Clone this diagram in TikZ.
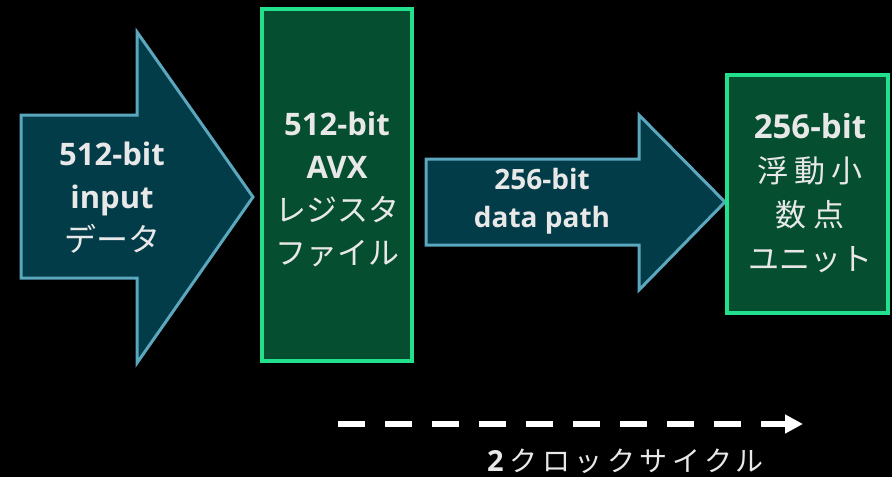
\documentclass[tikz,border=0pt]{standalone}
\usepackage{fontspec}
\usetikzlibrary{arrows.meta}
\setmainfont{Open Sans}
\newfontfamily\jp{Noto Sans CJK JP}
\newcommand{\jpsz}[1]{\jp\fontsize{#1}{#1}\selectfont}
\definecolor{arrowfill}{HTML}{033C49}
\definecolor{arrowline}{HTML}{5BA7BE}
\definecolor{boxfill}{HTML}{054E30}
\definecolor{boxline}{HTML}{22E08C}
\definecolor{txt}{HTML}{E8E8E8}
\tikzset{
  flowarrow/.style={fill=arrowfill, draw=arrowline, line width=3pt, line join=miter},
  unitbox/.style={fill=boxfill, draw=boxline, line width=3.5pt},
  label/.style={text=txt, align=center, inner sep=0pt},
  clockline/.style={draw=white, line width=6pt, dash pattern=on 27pt off 20pt,
    -{Triangle[length=18pt,width=18pt]}}
}
\begin{document}
\begin{tikzpicture}[x=1pt,y=-1pt]
\fill[black] (0,0) rectangle (892,477);
\useasboundingbox (0,0) rectangle (892,477);

% 512-bit input arrow
\draw[flowarrow] (21,115) -- (137,115) -- (137,32) -- (253,197) -- (137,363)
  -- (137,278) -- (21,278) -- cycle;
\node[label, font=\fontsize{31}{43}\selectfont] (input) at (112,198)
  {\bfseries 512-bit\\\bfseries input\\{\jpsz{32}データ}};

% AVX register file
\draw[unitbox] (262,9) rectangle (412,361);
\node[label, font=\fontsize{31}{43}\selectfont] (regfile) at (337,189)
  {\bfseries 512-bit\\\bfseries AVX\\{\jpsz{31}レジスタ}\\{\jpsz{31}ファイル}};

% 256-bit data path arrow
\draw[flowarrow] (426,159) -- (639,159) -- (639,115) -- (725,202) -- (639,290)
  -- (639,245) -- (426,245) -- cycle;
\node[label, font=\fontsize{28}{38}\selectfont] (path) at (542,201)
  {\bfseries 256-bit\\\bfseries data path};

% floating point unit
\draw[unitbox] (727,75) rectangle (888,313);
\node[label, font=\fontsize{33}{44}\selectfont] (fpu) at (810,193)
  {\bfseries 256-bit\\{\jpsz{31}浮\hspace{6pt}動\hspace{6pt}小}\\{\jpsz{31}数\hspace{7pt}点}\\{\jpsz{31}ユニット}};

% clock cycle indicator
\coordinate (cs) at (338,424);
\coordinate (ce) at (803,424);
\draw[clockline] (cs) -- (ce);
\node[label, font=\fontsize{29}{32}\selectfont, anchor=west] (clock) at (487,461)
  {{\bfseries 2}\hspace{6pt}{\jpsz{28}\addfontfeature{LetterSpace=16}クロックサイクル}};
\end{tikzpicture}
\end{document}
